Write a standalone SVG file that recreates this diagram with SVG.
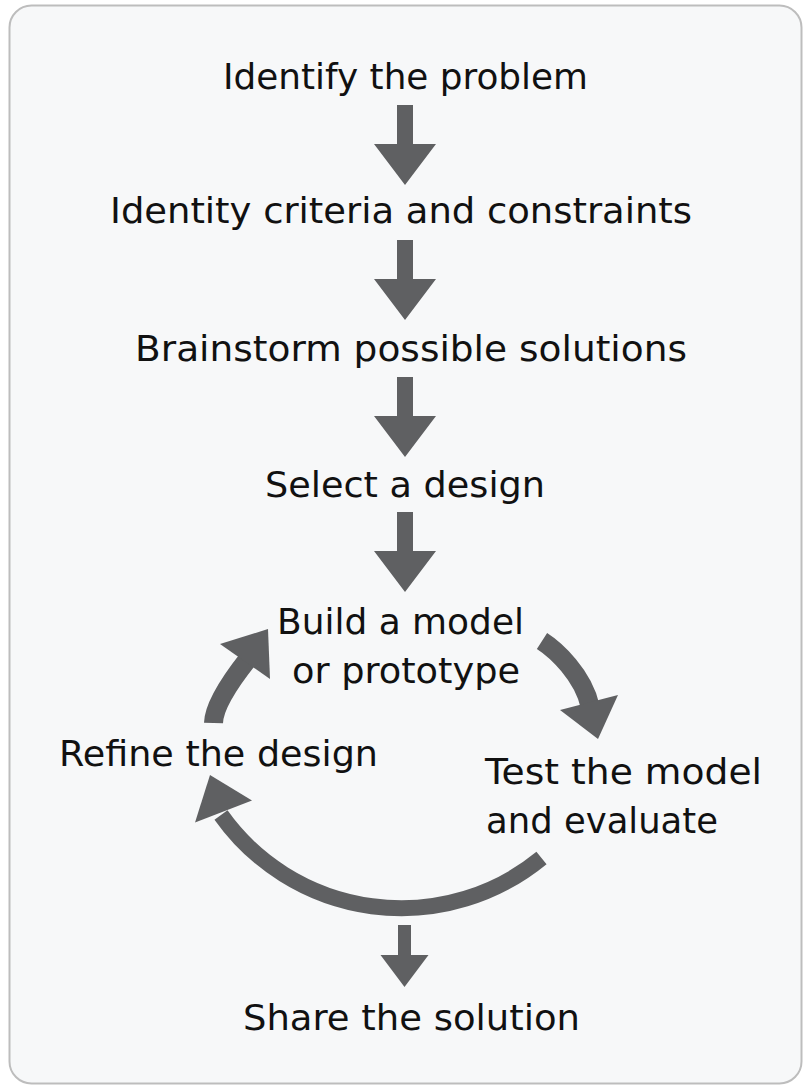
<svg xmlns="http://www.w3.org/2000/svg" xmlns:xlink="http://www.w3.org/1999/xlink" width="804" height="1086" viewBox="0 0 804 1086">
  <style>
    .lbl { font-family: "DejaVu Sans", "Liberation Sans", sans-serif; font-size: 36px; fill: #111111; }
    .arrow { fill: #5f6062; }
    .arc { fill: none; stroke: #5f6062; stroke-linecap: butt; }
  </style>
  <defs>
    <path id="downArrow" d="M-8,0 H8 V39 H31 L0,80 L-31,39 H-8 Z"/>
    <path id="smallDownArrow" d="M-6.5,0 H6.5 V30 H24 L0,62 L-24,30 H-6.5 Z"/>
  </defs>
  <rect x="0" y="0" width="804" height="1086" fill="#ffffff"/>
  <rect x="9.5" y="5.5" width="792" height="1078" rx="22" ry="22" fill="#f7f8f9" stroke="#bdbdbd" stroke-width="2"/>

  <g id="connectors">
    <use xlink:href="#downArrow" href="#downArrow" class="arrow" transform="translate(405,105)"/>
    <use xlink:href="#downArrow" href="#downArrow" class="arrow" transform="translate(405,240)"/>
    <use xlink:href="#downArrow" href="#downArrow" class="arrow" transform="translate(405,377)"/>
    <use xlink:href="#downArrow" href="#downArrow" class="arrow" transform="translate(405,512)"/>
    <!-- Build -> Test -->
    <path class="arc" stroke-width="19" d="M542,641 C556,650 583,675 590,706"/>
    <polygon class="arrow" points="560,710 618,695 598,739"/>
    <!-- Test -> Refine (lower arc) -->
    <path class="arc" stroke-width="16" d="M541.5,858 A221,221 0 0 1 221,815"/>
    <polygon class="arrow" points="195,822.5 252,800.5 210,775"/>
    <!-- Refine -> Build -->
    <path class="arc" stroke-width="19" d="M213.5,723 Q214,702 248,659"/>
    <polygon class="arrow" points="220,644 268,629 270,679"/>
    <use xlink:href="#smallDownArrow" href="#smallDownArrow" class="arrow" transform="translate(404.5,925)"/>
  </g>

  <g id="node-identify-problem">
    <text class="lbl" x="223" y="89" textLength="365" lengthAdjust="spacingAndGlyphs">Identify the problem</text>
  </g>
  <g id="node-criteria">
    <text class="lbl" x="110" y="223" textLength="582" lengthAdjust="spacingAndGlyphs">Identity criteria and constraints</text>
  </g>
  <g id="node-brainstorm">
    <text class="lbl" x="135" y="361" textLength="552" lengthAdjust="spacingAndGlyphs">Brainstorm possible solutions</text>
  </g>
  <g id="node-select">
    <text class="lbl" x="265" y="497" textLength="280" lengthAdjust="spacingAndGlyphs">Select a design</text>
  </g>
  <g id="node-build">
    <text class="lbl" x="277" y="634" textLength="247" lengthAdjust="spacingAndGlyphs">Build a model</text>
    <text class="lbl" x="292" y="683" textLength="228" lengthAdjust="spacingAndGlyphs">or prototype</text>
  </g>
  <g id="node-refine">
    <text class="lbl" x="59" y="766" textLength="319" lengthAdjust="spacingAndGlyphs">Refine the design</text>
  </g>
  <g id="node-test">
    <text class="lbl" x="485" y="784" textLength="277" lengthAdjust="spacingAndGlyphs">Test the model</text>
    <text class="lbl" x="486" y="833" textLength="232" lengthAdjust="spacingAndGlyphs">and evaluate</text>
  </g>
  <g id="node-share">
    <text class="lbl" x="243" y="1030" textLength="337" lengthAdjust="spacingAndGlyphs">Share the solution</text>
  </g>
</svg>
